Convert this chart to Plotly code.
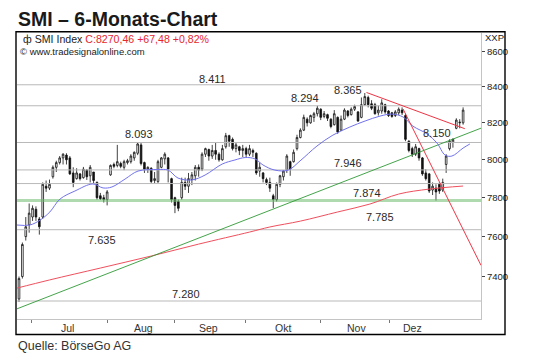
import numpy as np
import plotly.graph_objects as go

# ---------------- data ----------------
# one candle per trading day, index 0 = first candle (late June)
opens = [7290, 7400, 7600, 7660, 7700, 7740, 7690, 7700, 7860, 7850,
         7910, 7960, 7985, 8010, 8025, 8010, 7930, 7900, 7925, 7905,
         7945, 7915, 7935, 7880, 7810, 7800, 7790, 7920, 7975, 7970,
         7980, 7960, 7985, 7990, 8010, 8035, 8080, 7985, 7950, 7955,
         7890, 7885, 7960, 8005, 8010, 7900, 7800, 7780, 7800, 7880,
         7860, 7895, 7915, 7960, 7950, 8030, 8055, 8020, 8050, 8030,
         8000, 8070, 8130, 8110, 8060, 8070, 8050, 8060, 8030, 8050,
         8035, 7940, 7930, 7895, 7880, 7810, 7790, 7870, 7910, 7945,
         7990, 7990, 8060, 8120, 8160, 8220, 8200, 8230, 8250, 8275,
         8235, 8245, 8220, 8190, 8230, 8160, 8220, 8265, 8245, 8275,
         8260, 8230, 8300, 8340, 8305, 8300, 8255, 8265, 8300, 8265,
         8255, 8240, 8255, 8270, 8240, 8100, 8060, 8030, 8060, 8010,
         7930, 7925, 7840, 7850, 7870, 7840, 7975, 8060, 8095, 8170,
         8200, 8200]
highs = [7400, 7570, 7700, 7770, 7760, 7755, 7700, 7880, 7890, 7895,
         7970, 7995, 8020, 8035, 8035, 8020, 7960, 7955, 7930, 7962,
         7950, 7972, 7935, 7885, 7825, 7815, 7840, 7975, 7985, 8080,
         7990, 8000, 8005, 8030, 8045, 8095, 8090, 7990, 7965, 7960,
         7935, 8000, 8015, 8040, 8015, 7905, 7805, 7790, 7905, 7905,
         7930, 7935, 7972, 7975, 8040, 8065, 8060, 8080, 8090, 8040,
         8080, 8145, 8135, 8120, 8095, 8075, 8080, 8070, 8080, 8060,
         8040, 7985, 7935, 7905, 7905, 7820, 7880, 7920, 7945, 8030,
         7995, 8055, 8135, 8170, 8245, 8230, 8245, 8260, 8294, 8280,
         8265, 8250, 8225, 8270, 8235, 8240, 8280, 8270, 8285, 8300,
         8265, 8340, 8365, 8350, 8325, 8310, 8295, 8330, 8305, 8270,
         8260, 8270, 8285, 8285, 8250, 8105, 8070, 8085, 8065, 8015,
         7950, 7930, 7880, 7870, 7880, 7900, 8030, 8110, 8115, 8225,
         8220, 8285]
lows = [7275, 7390, 7580, 7620, 7680, 7680, 7610, 7690, 7830, 7840,
        7900, 7935, 7975, 7975, 7975, 7920, 7855, 7895, 7890, 7900,
        7893, 7880, 7876, 7790, 7788, 7775, 7760, 7915, 7955, 7960,
        7955, 7945, 7975, 7980, 7995, 8025, 7970, 7930, 7930, 7877,
        7877, 7877, 7955, 7975, 7880, 7775, 7720, 7730, 7790, 7840,
        7825, 7866, 7890, 7910, 7940, 8015, 7995, 8005, 8000, 7990,
        7995, 8060, 8070, 8050, 8040, 8025, 8015, 8015, 8020, 8015,
        7920, 7910, 7880, 7866, 7830, 7746, 7780, 7855, 7890, 7930,
        7915, 7985, 8050, 8115, 8155, 8180, 8195, 8205, 8235, 8215,
        8225, 8210, 8170, 8185, 8140, 8155, 8215, 8230, 8240, 8265,
        8205, 8225, 8295, 8285, 8270, 8245, 8240, 8250, 8250, 8232,
        8228, 8232, 8243, 8243, 8100, 8040, 8015, 8020, 7995, 7915,
        7890, 7825, 7814, 7785, 7820, 7830, 7930, 8050, 8065, 8165,
        8170, 8190]
closes = [7390, 7560, 7650, 7720, 7745, 7700, 7650, 7870, 7850, 7870,
          7960, 7985, 8010, 8030, 8000, 7925, 7880, 7930, 7900, 7950,
          7910, 7960, 7890, 7800, 7795, 7790, 7830, 7970, 7965, 7990,
          7965, 7990, 7995, 8020, 8040, 8085, 7980, 7950, 7960, 7885,
          7900, 7990, 8010, 8030, 7950, 7790, 7760, 7745, 7880, 7860,
          7900, 7920, 7960, 7945, 8030, 8060, 8020, 8050, 8030, 8000,
          8060, 8130, 8100, 8060, 8080, 8050, 8060, 8030, 8060, 8040,
          7930, 7960, 7900, 7880, 7850, 7790, 7870, 7915, 7940, 8020,
          7950, 8040, 8120, 8160, 8230, 8200, 8240, 8250, 8280, 8230,
          8250, 8225, 8180, 8250, 8150, 8220, 8270, 8240, 8275, 8290,
          8210, 8300, 8345, 8300, 8280, 8250, 8270, 8310, 8260, 8240,
          8235, 8260, 8275, 8255, 8110, 8050, 8030, 8070, 8010, 7925,
          7900, 7835, 7860, 7830, 7835, 7880, 8020, 8100, 8110, 8215,
          8203, 8270]

# month ticks / labels (positions on the candle-index scale)
month_labels = ["Jul", "Aug", "Sep", "Okt", "Nov", "Dez"]
month_tick_pos = [3.8, 26.0, 46.0, 66.7, 88.8, 109.4]
month_label_pos = [14.2, 36.6, 55.8, 77.9, 99.7, 116.2]

# horizontal price levels
grey_levels = [8411, 8294, 8093, 7946, 7874, 7635, 7280]
green_level = 7785

level_texts = ["8.411", "8.365", "8.294", "8.093", "7.946",
               "7.874", "7.785", "7.635", "7.280", "8.150"]
level_text_values = [8411, 8365, 8294, 8093, 7946, 7874, 7785, 7635, 7280, 8150]
level_text_idx = [57.2, 97.1, 84.4, 35.4, 97.1, 102.7, 106.5, 24.5, 49.3, 123.3]

# fast moving average (blue), read as points
ma_fast_idx = [-0.6, 3.2, 6.2, 9.1, 12.1, 16.5, 21.8, 24.8, 27.4, 31.3,
               35.1, 41.0, 44.0, 46.9, 51.0, 54.9, 59.9, 63.7, 66.7, 69.6,
               72.0, 75.5, 79.4, 82.9, 87.9, 92.6, 97.6, 102.1, 106.5, 110.0,
               113.3, 116.2, 120.4, 123.3, 125.7, 127.7, 131.0, 133.0]
ma_fast_val = [7659, 7659, 7684, 7726, 7793, 7835, 7872, 7851, 7856, 7898,
               7940, 7948, 7945, 7903, 7893, 7919, 7977, 7999, 8012, 8005,
               7972, 7945, 7945, 7994, 8074, 8133, 8177, 8210, 8237, 8248,
               8232, 8182, 8139, 8090, 8025, 8020, 8063, 8085]

# slow moving average (red), read as points
ma_slow_idx = [-0.6, 9, 24, 39, 53, 68, 74, 83, 94, 103.5, 112, 121, 131]
ma_slow_val = [7343, 7383, 7442, 7502, 7562, 7623, 7649, 7679, 7726, 7767,
               7819, 7845, 7861]

# trend lines (start / end)
trend_green_idx = [-0.6, 136.3]
trend_green_val = [7242, 8171]
trend_red1_idx = [102.5, 131.5]
trend_red1_val = [8368, 8168]
trend_red2_idx = [113.3, 136.3]
trend_red2_val = [8276, 7455]

legend_black = "\u0444 SMI Index "
legend_red = "C:8270,46 +67,48 +0,82%"

# ---------------- figure ----------------
X_RANGE = [-0.59, 136.28]
Y_RANGE = [np.log10(7193), np.log10(8707)]
FONT = "Liberation Sans, Arial, sans-serif"

fig = go.Figure()

for lv in grey_levels:
    fig.add_trace(go.Scatter(x=X_RANGE, y=[lv, lv], mode="lines",
                             line=dict(color="#b9b9b9", width=1),
                             hoverinfo="skip"))
fig.add_trace(go.Scatter(x=X_RANGE, y=[green_level, green_level], mode="lines",
                         line=dict(color="rgba(110,185,110,0.55)", width=3),
                         hoverinfo="skip"))

fig.add_trace(go.Scatter(x=ma_slow_idx, y=ma_slow_val, mode="lines",
                         line=dict(color="#f0505e", width=1, shape="spline"),
                         hoverinfo="skip"))
fig.add_trace(go.Scatter(x=trend_green_idx, y=trend_green_val, mode="lines",
                         line=dict(color="#2f9a36", width=0.9),
                         hoverinfo="skip"))
fig.add_trace(go.Scatter(x=ma_fast_idx, y=ma_fast_val, mode="lines",
                         line=dict(color="#7272ee", width=1, shape="spline"),
                         hoverinfo="skip"))
fig.add_trace(go.Scatter(x=trend_red1_idx, y=trend_red1_val, mode="lines",
                         line=dict(color="#ee3444", width=1),
                         hoverinfo="skip"))
fig.add_trace(go.Scatter(x=trend_red2_idx, y=trend_red2_val, mode="lines",
                         line=dict(color="#ee3444", width=1),
                         hoverinfo="skip"))

fig.add_trace(go.Candlestick(
    x=list(range(len(closes))), open=opens, high=highs, low=lows, close=closes,
    increasing=dict(line=dict(color="#111111", width=0.8), fillcolor="white"),
    decreasing=dict(line=dict(color="#111111", width=0.8), fillcolor="#111111"),
    whiskerwidth=0, hoverinfo="skip"))

fig.update_layout(
    width=540, height=361,
    margin=dict(l=17, r=59, t=33, b=42),
    paper_bgcolor="white", plot_bgcolor="white",
    showlegend=False,
    font=dict(family=FONT, color="#222222"),
    xaxis=dict(range=X_RANGE, rangeslider=dict(visible=False),
               tickvals=month_tick_pos,
               ticktext=[""] * len(month_tick_pos),
               ticks="outside", ticklen=3, tickcolor="#777777", tickwidth=1,
               showline=True, linecolor="#c4c4c4", linewidth=1,
               showgrid=False, zeroline=False),
    yaxis=dict(type="log", range=Y_RANGE, side="right",
               tickvals=[7400, 7600, 7800, 8000, 8200, 8400, 8600],
               ticktext=["7400", "7600", "7800", "8000", "8200", "8400", "8600"],
               ticks="outside", ticklen=3, tickcolor="#444444",
               tickfont=dict(size=9.5, color="#222222", family=FONT),
               showline=True, linecolor="#c4c4c4", linewidth=1,
               showgrid=False, zeroline=False),
)

PW, PH = 464.0, 286.0   # plot area in px


def px_x(px):
    return (px - 17) / PW


def px_y(py):
    return (319 - py) / PH


# outer black frame
fig.add_shape(type="rect", xref="paper", yref="paper",
              x0=px_x(16), x1=px_x(505), y0=px_y(334.5), y1=px_y(31.7),
              line=dict(color="black", width=1.4), fillcolor="rgba(0,0,0,0)")

ann = []
ann.append(dict(xref="paper", yref="paper", x=px_x(16), y=px_y(19.5),
                xanchor="left", yanchor="middle", showarrow=False,
                text="<b>SMI \u2013 6-Monats-Chart</b>",
                font=dict(size=19.5, color="#1a1a1a", family=FONT)))
ann.append(dict(xref="paper", yref="paper", x=px_x(21), y=px_y(38.5),
                xanchor="left", yanchor="middle", showarrow=False,
                text=legend_black + "<span style='color:#e8262d'>" + legend_red + "</span>",
                font=dict(size=10.6, color="#222222", family=FONT)))
ann.append(dict(xref="paper", yref="paper", x=px_x(17.5), y=px_y(51.5),
                xanchor="left", yanchor="middle", showarrow=False,
                text="\u00a9 www.tradesignalonline.com",
                font=dict(size=9.5, color="#222222", family=FONT)))
ann.append(dict(xref="paper", yref="paper", x=px_x(483), y=px_y(37.5),
                xanchor="left", yanchor="middle", showarrow=False,
                text="XXP", font=dict(size=9.5, color="#222222", family=FONT)))
ann.append(dict(xref="paper", yref="paper", x=px_x(16), y=px_y(345.5),
                xanchor="left", yanchor="middle", showarrow=False,
                text="Quelle: B\u00f6rseGo AG",
                font=dict(size=12.5, color="#333333", family=FONT)))

for lbl, pos in zip(month_labels, month_label_pos):
    ann.append(dict(xref="x", yref="paper", x=pos, y=px_y(327.5),
                    xanchor="center", yanchor="middle", showarrow=False,
                    text=lbl, font=dict(size=10.5, color="#333333", family=FONT)))

level_shift = [6, 3, 8, 8, 6.5, -9, -16, -10, 7, -1.5]
for t, v, xi, sh in zip(level_texts, level_text_values, level_text_idx, level_shift):
    ann.append(dict(xref="x", yref="y", x=xi, y=np.log10(v), yshift=sh,
                    xanchor="center", yanchor="middle", showarrow=False,
                    text=t, font=dict(size=11, color="#2a2a2a", family=FONT)))

fig.update_layout(annotations=ann)

fig.write_html("out.html",
               config={"displayModeBar": False},
               post_script="document.body.style.margin='0';document.body.style.padding='0';")
